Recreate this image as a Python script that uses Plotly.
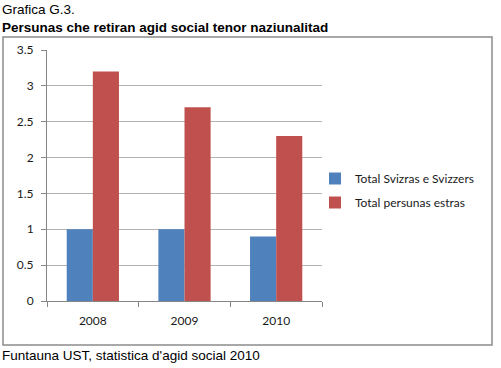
import plotly.graph_objects as go

years = ["2008", "2009", "2010"]
svizzers = [1.0, 1.0, 0.9]
estras = [3.2, 2.7, 2.3]
series_names = ["Total Svizras e Svizzers", "Total persunas estras"]
y_ticks = [0, 0.5, 1, 1.5, 2, 2.5, 3, 3.5]
y_tick_labels = ["0", "0.5", "1", "1.5", "2", "2.5", "3", "3.5"]

W, H = 501, 368
L, R, T, B = 47, 179, 50, 67
pw, ph = W - L - R, H - T - B

def px(x):
    return (x - L) / pw

def py(y):
    return (H - B - y) / ph

fig = go.Figure()
fig.add_trace(go.Bar(x=years, y=svizzers, name=series_names[0], legendgroup="a",
                     marker=dict(color="#4f81bd", line=dict(width=0))))
fig.add_trace(go.Bar(x=years, y=estras, name=series_names[1], legendgroup="b",
                     marker=dict(color="#c0504d", line=dict(width=0))))

tick_font = dict(family="Lato, Open Sans, sans-serif", size=12, color="#1a1a1a")
txt_font = dict(family="Liberation Sans, Arial", size=13.5, color="#000")

fig.update_layout(
    width=W, height=H,
    margin=dict(l=L, r=R, t=T, b=B, autoexpand=False),
    paper_bgcolor="white", plot_bgcolor="white",
    barmode="group", bargap=0.43, bargroupgap=0,
    showlegend=True,
    legend=dict(x=px(315), y=py(164), xanchor="left", yanchor="top",
                font=tick_font, itemwidth=30, tracegroupgap=5,
                bgcolor="rgba(0,0,0,0)"),
    xaxis=dict(showgrid=False, showline=True, linecolor="#868686", linewidth=1,
               ticks="outside", tickson="boundaries", ticklen=5, tickcolor="#868686",
               tickfont=tick_font, ticklabelstandoff=9, fixedrange=True),
    yaxis=dict(range=[0, 3.5], tickvals=y_ticks, ticktext=y_tick_labels,
               showgrid=True, gridcolor="#b3b3b3", gridwidth=1,
               showline=True, linecolor="#868686", linewidth=1,
               ticks="outside", ticklen=5, tickcolor="#868686",
               tickfont=tick_font, ticklabelstandoff=5,
               zeroline=False, fixedrange=True),
    shapes=[dict(type="rect", xref="paper", yref="paper",
                 x0=px(3), x1=px(492), y0=py(345), y1=py(37),
                 line=dict(color="#8c8c8c", width=1.5), layer="below")],
    annotations=[
        dict(text="Grafica G.3.", xref="paper", yref="paper", x=px(0), y=py(10),
             xanchor="left", yanchor="middle", showarrow=False, font=txt_font),
        dict(text="<b>Persunas che retiran agid social tenor naziunalitad</b>",
             xref="paper", yref="paper", x=px(0), y=py(27),
             xanchor="left", yanchor="middle", showarrow=False, font=txt_font),
        dict(text="Funtauna UST, statistica d'agid social 2010",
             xref="paper", yref="paper", x=px(0), y=py(355),
             xanchor="left", yanchor="middle", showarrow=False, font=txt_font),
    ],
)

fig.write_html("out.html", config={"displayModeBar": False},
               post_script="document.body.style.margin='0';document.body.style.overflow='hidden';")
